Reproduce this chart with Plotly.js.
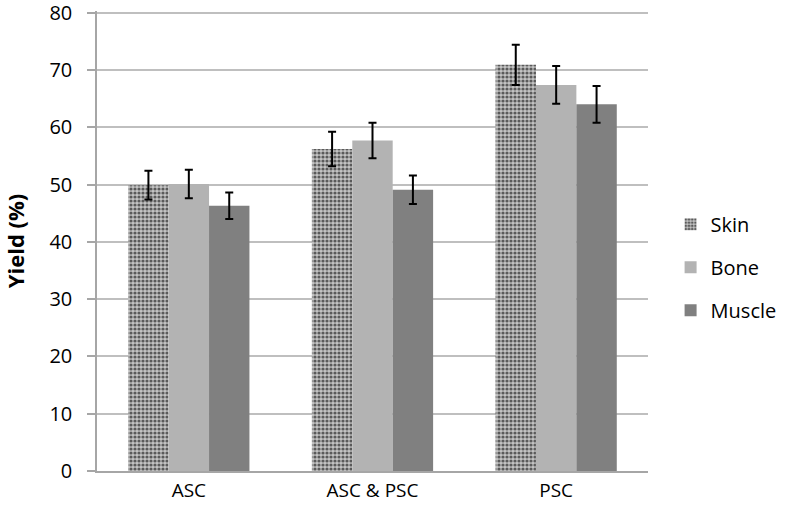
<!DOCTYPE html>
<html>
<head>
<meta charset="utf-8">
<script src="https://cdn.plot.ly/plotly-3.0.1.min.js"></script>
<style>html,body{margin:0;padding:0;background:#fff;}#chart{width:793px;height:507px;}</style>
</head>
<body>
<div id="chart"></div>
<script>
var categories = ["ASC", "ASC & PSC", "PSC"];
var skinValues = [49.9, 56.2, 70.9];
var skinErrors = [2.5, 3.0, 3.5];
var boneValues = [50.1, 57.7, 67.4];
var boneErrors = [2.5, 3.1, 3.3];
var muscleValues = [46.3, 49.1, 64.0];
var muscleErrors = [2.3, 2.5, 3.2];
var yTicks = [0, 10, 20, 30, 40, 50, 60, 70, 80];

var errStyle = {type: "data", visible: true, color: "#000000", thickness: 2, width: 4};

var traces = [
  {
    type: "bar", name: "Skin", legendgroup: "g1", x: categories, y: skinValues,
    error_y: Object.assign({array: skinErrors}, errStyle),
    marker: {color: "#a0a0a0", line: {width: 0},
      pattern: {shape: ".", bgcolor: "#c4c4c4", fgcolor: "#5a5a5a", size: 4, solidity: 0.5}}
  },
  {
    type: "bar", name: "Bone", legendgroup: "g2", x: categories, y: boneValues,
    error_y: Object.assign({array: boneErrors}, errStyle),
    marker: {color: "#b3b3b3", line: {width: 0}}
  },
  {
    type: "bar", name: "Muscle", legendgroup: "g3", x: categories, y: muscleValues,
    error_y: Object.assign({array: muscleErrors}, errStyle),
    marker: {color: "#808080", line: {width: 0}}
  }
];

var layout = {
  width: 793, height: 507,
  margin: {l: 97, r: 137, t: 11, b: 36},
  paper_bgcolor: "#ffffff", plot_bgcolor: "#ffffff",
  font: {family: "Open Sans, Liberation Sans, sans-serif", size: 20, color: "#000000"},
  barmode: "group", bargap: 0.34, bargroupgap: 0,
  showlegend: true,
  legend: {x: 1.041, y: 0.443, xanchor: "left", yanchor: "middle",
    font: {size: 20, color: "#000000"}, tracegroupgap: 14, itemwidth: 30},
  xaxis: {
    showline: true, linecolor: "#a6a6a6", linewidth: 1.5,
    ticks: "", showgrid: false, tickfont: {size: 19}, ticklabelstandoff: 1
  },
  yaxis: {
    range: [0, 80.3], tickvals: yTicks, ticktext: yTicks.map(String),
    showgrid: true, gridcolor: "#bfbfbf", gridwidth: 1.5,
    showline: true, linecolor: "#a6a6a6", linewidth: 1.5,
    ticks: "outside", ticklen: 8, tickcolor: "#a6a6a6", tickwidth: 1.5,
    zeroline: false, tickfont: {size: 20}, ticklabelstandoff: 11,
    ticklabeloverflow: "allow",
    title: {text: "<b>Yield (%)</b>", font: {size: 22}, standoff: 22}
  }
};

Plotly.newPlot("chart", traces, layout, {displayModeBar: false, responsive: false});
</script>
</body>
</html>
